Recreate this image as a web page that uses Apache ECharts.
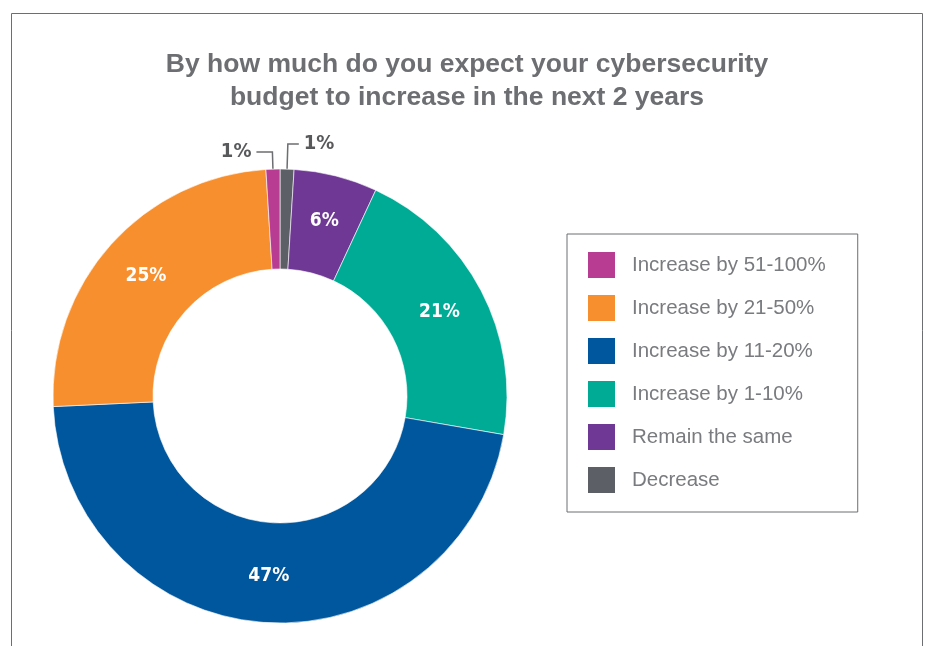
<!DOCTYPE html>
<html><head><meta charset="utf-8">
<script src="https://cdn.jsdelivr.net/npm/echarts@6/dist/echarts.min.js"></script>
<style>html,body{margin:0;padding:0;background:#fff}#c{width:928px;height:646px}</style>
</head><body><div id="c"></div>
<script>
const titleLines = ['By how much do you expect your cybersecurity', 'budget to increase in the next 2 years'];
// clockwise from 12 o'clock
const categories = ['Decrease', 'Remain the same', 'Increase by 1-10%', 'Increase by 11-20%', 'Increase by 21-50%', 'Increase by 51-100%'];
const values = [1, 6, 21, 47, 25, 1];
const colors = ['#5d5f66', '#6f3894', '#00ab96', '#00579d', '#f78f2e', '#b83c92'];
const legendOrder = ['Increase by 51-100%', 'Increase by 21-50%', 'Increase by 11-20%', 'Increase by 1-10%', 'Remain the same', 'Decrease'];

const labelFont = "'Liberation Sans Narrow', 'DejaVu Sans Condensed', sans-serif";
const outsideIdx = { 0: { length: 25, length2: 11 }, 5: { length: 17, length2: 16 } };

const data = categories.map((name, i) => {
  const d = { name, value: values[i], itemStyle: { color: colors[i] } };
  if (outsideIdx[i]) {
    d.label = { position: 'outside', color: '#58595b', fontSize: 20, distance: 4 };
    d.labelLine = { show: true, length: outsideIdx[i].length, length2: outsideIdx[i].length2, smooth: false,
      lineStyle: { color: '#6d6e71', width: 1.5 } };
  }
  return d;
});

const chart = echarts.init(document.getElementById('c'));
chart.setOption({
  animation: false,
  title: {
    text: titleLines.join('\n'), left: 462, top: 43, textAlign: 'center',
    textStyle: { fontFamily: "'Liberation Sans', Arial, sans-serif", fontWeight: 'bold', fontSize: 26.5, lineHeight: 33, color: '#6d6e71' }
  },
  graphic: [{
    type: 'rect', shape: { x: 11.5, y: 13.5, width: 911, height: 700 },
    style: { fill: 'none', stroke: '#6d6e71', lineWidth: 1 }, silent: true
  }],
  legend: {
    orient: 'vertical', left: 567, top: 234,
    data: legendOrder, icon: 'rect', itemWidth: 29, itemHeight: 28, itemGap: 13,
    padding: [16, 32, 17, 19], borderColor: '#6d6e71', borderWidth: 1,
    textStyle: { fontFamily: "'Liberation Sans', Arial, sans-serif", fontSize: 20.5, lineHeight: 28, color: '#7a7b7e', padding: [0, 0, 0, 11] }
  },
  series: [{
    type: 'pie', center: [280, 396], radius: [127, 227], startAngle: 90, clockwise: true,
    avoidLabelOverlap: false,
    itemStyle: { borderColor: '#fff', borderWidth: 0.6 },
    label: { show: true, position: 'inside', formatter: '{c}%', color: '#fff', fontFamily: labelFont, fontWeight: 'bold', fontSize: 19 },
    labelLine: { show: false },
    data
  }]
});
</script></body></html>
